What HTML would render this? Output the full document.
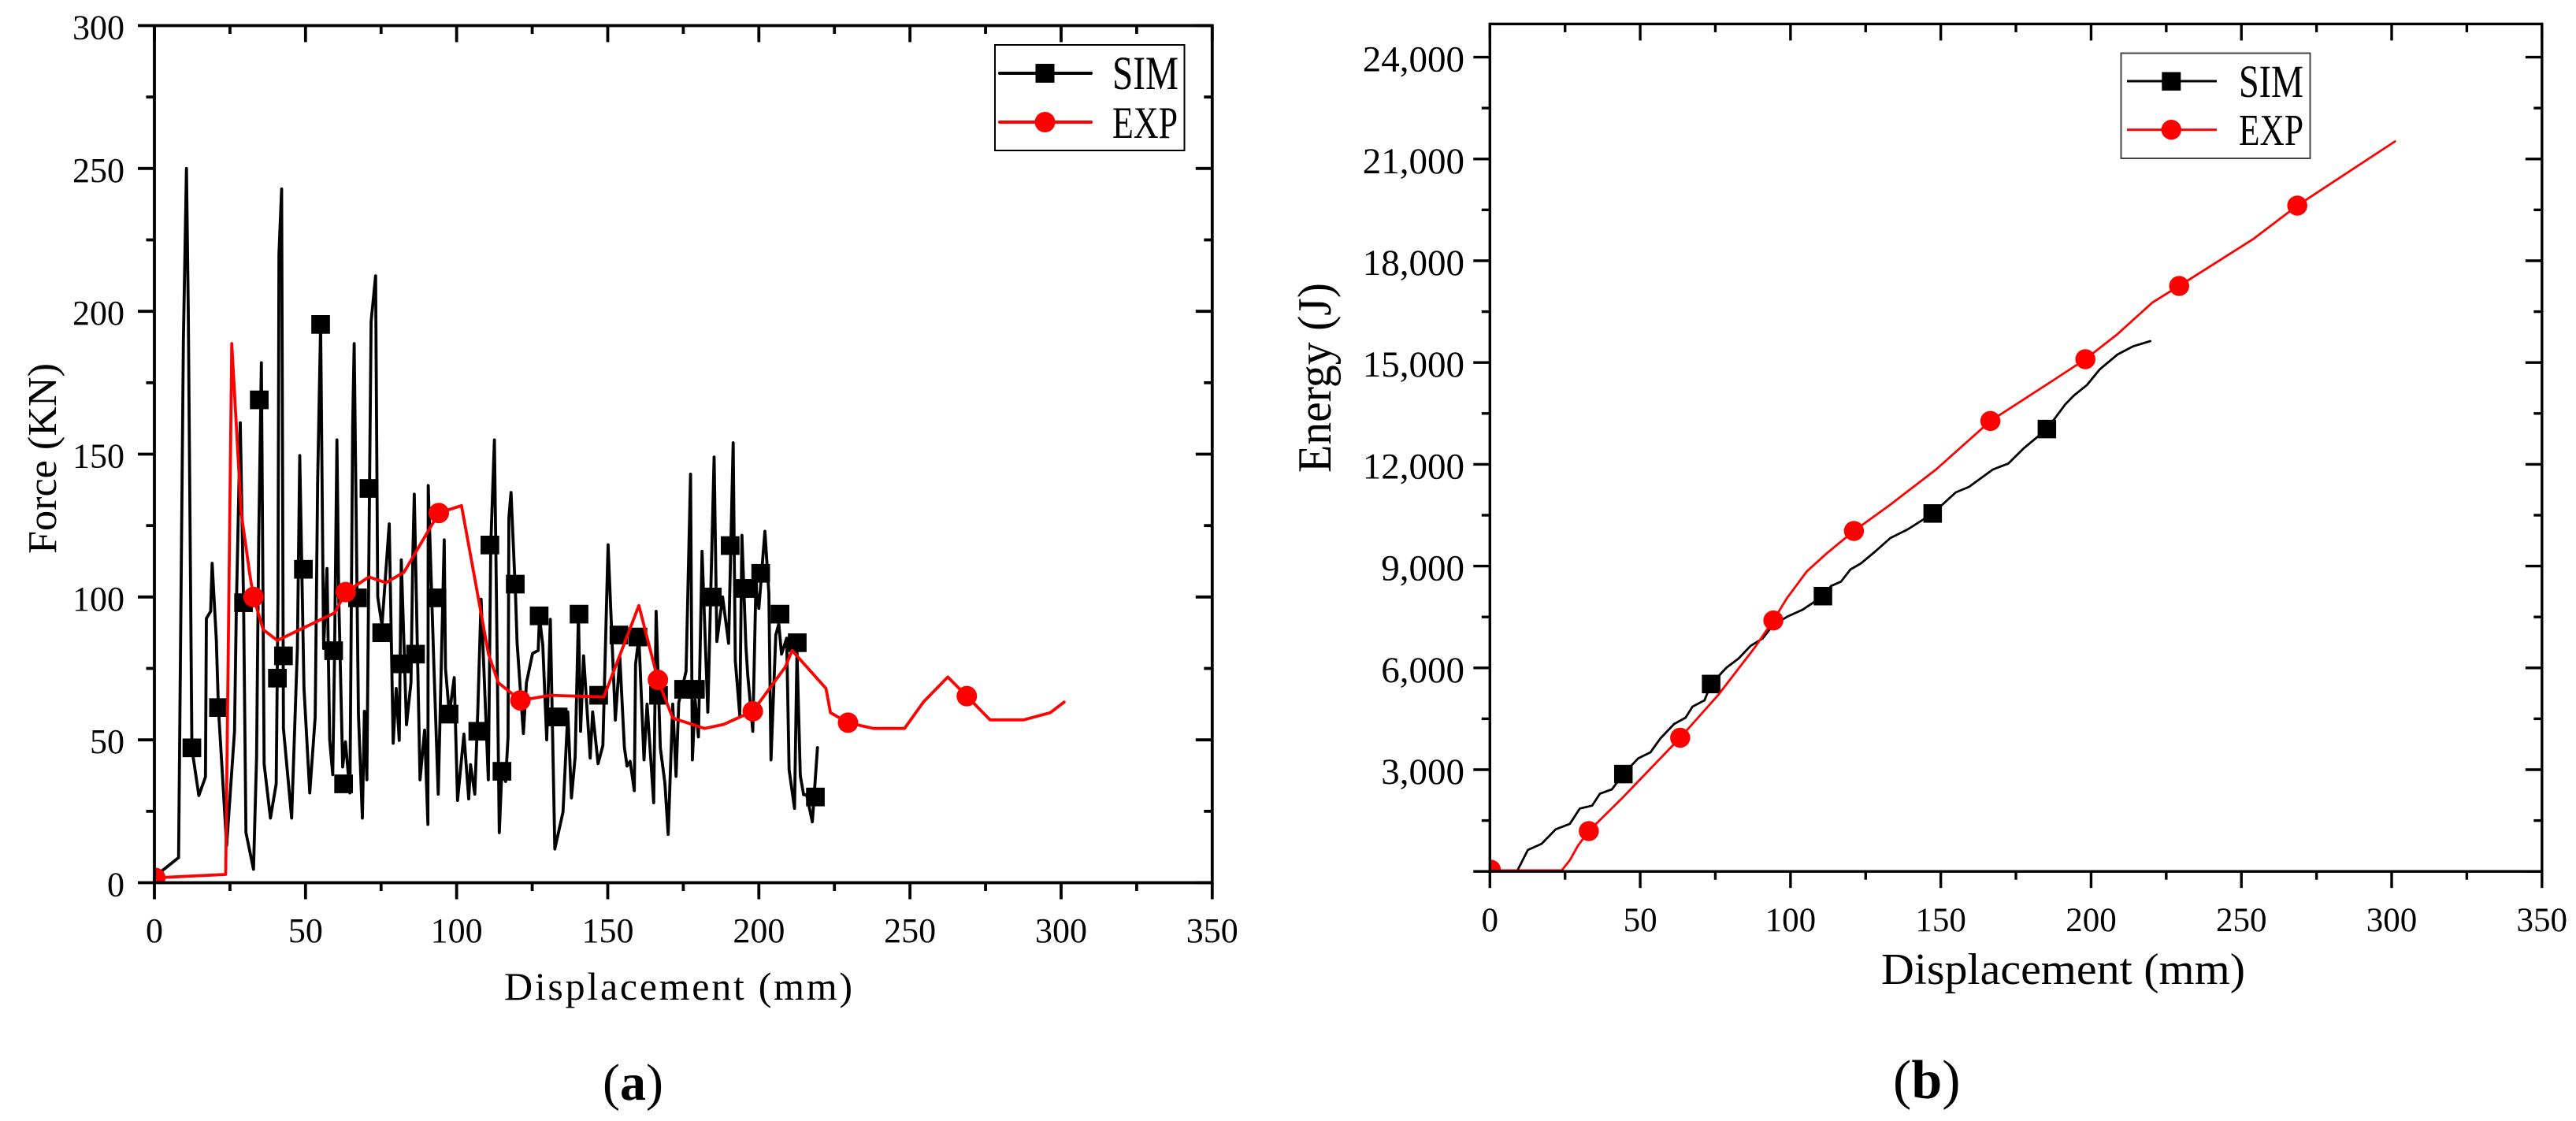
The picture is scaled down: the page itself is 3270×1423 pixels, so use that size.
<!DOCTYPE html>
<html lang="en">
<head>
<meta charset="utf-8">
<title>Force and energy versus displacement</title>
<style>
html,body{margin:0;padding:0;background:#fff;}
svg{display:block;}
text{font-family:"Liberation Serif","Noto Serif CJK SC",serif;fill:#000;}
</style>
</head>
<body>
<svg id="figure" xmlns="http://www.w3.org/2000/svg" width="3270" height="1423" viewBox="0 0 3270 1423">
<rect x="0" y="0" width="3270" height="1423" fill="#fff"/>
<defs>
<clipPath id="clip-a"><rect x="196" y="32.5" width="1342.8" height="1088"/></clipPath>
<clipPath id="clip-b"><rect x="1891.3" y="30.4" width="1335.5" height="1075.8"/></clipPath>
</defs>
<g id="panel-a"></g>
<g id="panel-b"></g>
<text transform="translate(71,703) rotate(-90)" font-size="52" textLength="242" lengthAdjust="spacingAndGlyphs">Force (KN)</text>
<text x="640" y="1269" font-size="50" textLength="442" lengthAdjust="spacing">Displacement (mm)</text>
<text transform="translate(1689,600) rotate(-90)" font-size="60" textLength="241" lengthAdjust="spacingAndGlyphs">Energy (J)</text>
<text x="2388" y="1249" font-size="56" textLength="462" lengthAdjust="spacingAndGlyphs">Displacement (mm)</text>
<text x="765" y="1396" font-size="66">(<tspan font-weight="bold">a</tspan>)</text>
<text x="2403" y="1394" font-size="70">(<tspan font-weight="bold">b</tspan>)</text>

<g>
<rect x="1263" y="57" width="240.5" height="134" fill="#fff" stroke="#000" stroke-width="2"/>
<line x1="1269" y1="93" x2="1385" y2="93" stroke="#000" stroke-width="4" stroke-linecap="round"/>
<rect x="1314.5" y="81" width="24" height="24" fill="#000"/>
<text x="1412" y="113" font-size="60" textLength="84" lengthAdjust="spacingAndGlyphs">SIM</text>
<line x1="1269" y1="155" x2="1385" y2="155" stroke="#f00" stroke-width="4" stroke-linecap="round"/>
<circle cx="1326.5" cy="155" r="13" fill="#f00"/>
<text x="1412" y="175" font-size="57" textLength="83" lengthAdjust="spacingAndGlyphs">EXP</text>
</g>
<g>
<rect x="2692.5" y="67.5" width="240" height="133.5" fill="#fff" stroke="#444" stroke-width="2"/>
<line x1="2700" y1="103" x2="2814" y2="103" stroke="#000" stroke-width="3"/>
<rect x="2744.3" y="91.5" width="24" height="23.5" fill="#000"/>
<text x="2842" y="123" font-size="58" textLength="82" lengthAdjust="spacingAndGlyphs">SIM</text>
<line x1="2700" y1="164.7" x2="2814" y2="164.7" stroke="#f00" stroke-width="3"/>
<circle cx="2756.3" cy="164.7" r="12.7" fill="#f00"/>
<text x="2842" y="184" font-size="56" textLength="82" lengthAdjust="spacingAndGlyphs">EXP</text>
</g>
</svg>
<script>
const xTickLabels = ["0","50","100","150","200","250","300","350"];
const xTickValues = [0,50,100,150,200,250,300,350];
const forceTickValues = [0,50,100,150,200,250,300];
const forceTickLabels = ["0","50","100","150","200","250","300"];
const energyTickValues = [0,3000,6000,9000,12000,15000,18000,21000,24000];
const energyTickLabels = ["","3,000","6,000","9,000","12,000","15,000","18,000","21,000","24,000"];

const simForceX = [0,8,9.6,10.6,11.2,12.4,14.7,16.9,17.2,18.6,19.1,20.5,21.2,23.9,26.5,27.1,28.4,29.5,30.3,32.8,33.8,34.5,35.4,36.3,38.4,40.3,40.9,41.2,42.1,42.7,45.4,47.3,48.1,49.5,51.4,53.2,54,55,56,57.1,58,59,59.6,60.4,61,62.3,63.2,64.7,65.6,66.1,67.5,68.8,69.5,70.3,71.1,71.7,73.2,73.9,75.3,77.7,79,80,81,81.7,83.4,84.9,85.5,86,87.9,89.4,90.5,90.6,92.5,93.9,95.9,96.3,97.6,99.2,100.3,102.4,104,104.6,106,107,108.1,110.5,111.3,112.5,113,114.1,115,116.2,117,117.3,118,119.5,120,122.1,123.1,125.1,127,127.4,128.5,129.8,131,132.5,135.2,136.8,138,139.2,140.3,141,142,144.2,145,146.8,148.4,150.1,152.5,154,155.5,156.4,157.4,158.8,159.2,160.3,162,163,165.2,166,167.4,168.9,170,171.5,172.6,173.5,175.9,177.4,178,178.9,180,181.2,183.1,185.2,186.1,188,190,191.5,192.2,193.7,194.4,195.7,196.3,198,199,200,202,203.3,204,205.6,206.6,207.5,209.2,210,211.8,212.6,213.7,214.8,215.8,217.7,219.4];
const simForceY = [2,8.8,190,250,200,47,30.5,37,92.5,95,111.8,85,61,13,53,96,161,98,17.6,4.7,44,120,182,41.5,22.6,34.6,100,220,242.8,54,22.6,82,149.5,68,31.4,58,140,195.4,82,110,50,37.8,80,155,100,40.5,49.3,31.4,160,188.7,59,22.6,60,36,130,196.4,212.4,100,90,125.6,48.8,68,49.8,113,55.3,70,114,136,36,53.4,20.4,139,75,31,120,75,59,71.8,28.8,52,29.3,41.3,31,60,99.2,36,118,155,115,17.5,40,35.4,51,127.8,136.6,100,84,52.2,70,80.2,81.3,93,83.3,50,92.2,11.8,24.8,59.8,29.7,44,94,53,79.4,43.6,59.8,41.7,48,118.3,56.9,79,47.4,40.8,42.5,32.2,76.5,86,43,62.5,28,95,47.3,34.9,16.9,62.5,37.2,63,74,143,43,64,51,116,59.7,149,84.4,100,83.8,154,77.7,58.5,121.6,83.2,73,53,103.5,96,123,101.3,43,86.7,90.6,80,85.6,39.5,26,81,37.5,30.8,30.8,21.3,47.3];
const simForceMarkerX = [12.4,21.2,29.5,34.7,40.7,42.7,49.3,55,59.3,62.6,67.2,71,75.2,81.4,86.4,93.5,97.5,107,111,115,119.4,127.3,132.3,133.6,140.5,147,153.7,160,166.8,175.1,179,184.6,190.5,195.3,196.6,200.6,207,212.7,218.7];
const simForceMarkerY = [47.2,61.3,98,169,71.6,79.4,109.7,195.4,81.2,34.6,99.7,138,87.5,76.6,80,99.7,59,53,118.2,39,104.5,93.4,58,58,94,65.6,86.7,86,65.6,67.7,67.7,100,118,103,103,108.3,94,84,30];
const expForceX = [0.3,23.6,25.6,28.7,31.6,32.8,36,40.7,59.6,63.3,71,76.6,82.6,94.1,101.6,107.8,110.5,113.8,121.1,131,148.7,160.3,166.6,171.5,182,188.3,198,208.7,211,222.2,223.7,229.5,237.9,248.2,254.5,262.5,268.8,276.5,287.6,296.4,301];
const expForceY = [1.7,2.9,188.7,129.7,107.7,100,88.6,84.8,94.4,101.7,107,105,108.7,129.4,132,96,80.2,70,63.8,65.6,65,97,71,57.6,54,55.4,60,75.4,81.3,68,59.5,56,54,54,63.3,72,65.3,57,57,59.5,63.2];
const expForceMarkerX = [0.3,32.8,63.3,94.1,121.1,166.6,198,229.5,268.8];
const expForceMarkerY = [1.7,100,101.7,129.4,63.8,71,60,56,65.3];

const simEnergyX = [0,9.2,12.6,17.2,21.9,26.6,29.9,34,36.6,40.6,44.4,49.3,53.4,56.7,61.3,65.1,67.4,71.4,73.6,78.7,82.7,86.7,90.7,94,98.8,104.1,110.8,113.5,116.8,119.9,123.5,128.2,133.2,139,147.3,155,159.4,167.3,172.5,177.6,185.3,191.4,194.3,198.6,202.9,208.8,213.9,219.7];
const simEnergyY = [20,32,632,816,1242,1403,1853,1939,2292,2420,2870,3330,3511,3920,4347,4532,4857,5043,5524,6007,6274,6648,6864,7238,7505,7718,8115,8415,8543,8898,9083,9432,9827,10082,10551,11173,11335,11846,12023,12474,13040,13765,14030,14336,14800,15237,15476,15631];
const simEnergyMarkerX = [44.4,73.6,110.8,147.3,185.3];
const simEnergyMarkerY = [2870,5524,8115,10551,13040];
const expEnergyX = [0.3,23.9,26.6,29.3,32.9,43.9,63.3,76,88.1,94.3,98.7,105.4,112.1,121.1,133.2,148.4,166.5,186.9,198.1,208.8,220.4,229.3,253.9,268.6,301.1];
const expEnergyY = [30,30,332,762,1189,2153,3940,5206,6599,7398,8039,8842,9378,10035,10810,11846,13277,14448,15097,15838,16770,17257,18637,19625,21518];
const expEnergyMarkerX = [0.3,32.9,63.3,94.3,121.1,166.5,198.1,229.3,268.6];
const expEnergyMarkerY = [50,1189,3940,7398,10035,13277,15097,17257,19625];

const SVGNS = "http://www.w3.org/2000/svg";
function mk(parent, tag, attrs, txt){
  const el = document.createElementNS(SVGNS, tag);
  for (const k in attrs) el.setAttribute(k, attrs[k]);
  if (txt !== undefined) el.textContent = txt;
  parent.appendChild(el);
  return el;
}
const pathOf = (xs, ys, sx, sy) => xs.map((x, i) => (i ? "L" : "M") + sx(x).toFixed(1) + " " + sy(ys[i]).toFixed(1)).join("");

function drawAxes(g, o){
  const {sx, sy, left, right, top, bottom, sw} = o;
  const major = 21, minor = 10.5;
  const frame = mk(g, "rect", {x:left, y:top, width:right-left, height:bottom-top, fill:"none", stroke:"#000", "stroke-width":sw});
  
  
  for (let v = 0; v <= 350; v += 25){
    const isMajor = v % 50 === 0, len = isMajor ? major : minor, x = sx(v);
    const b = mk(g, "line", {x1:x, x2:x, y1:bottom, y2:bottom+len, stroke:"#000", "stroke-width":sw});
    
    
    const t = mk(g, "line", {x1:x, x2:x, y1:top, y2:top+len, stroke:"#000", "stroke-width":sw});
    
    
  }
  xTickValues.forEach((v, i) => {
    const lab = mk(g, "text", {x:sx(v), y:o.xLabelY, "font-size":o.fs, "text-anchor":"middle"}, xTickLabels[i]);
    
    
  });
  const step = o.yVals[1] - o.yVals[0];
  o.yVals.forEach((v, i) => {
    const y = sy(v);
    const l = mk(g, "line", {x1:left-major, x2:left, y1:y, y2:y, stroke:"#000", "stroke-width":sw});
    
    
    const r = mk(g, "line", {x1:right-major, x2:right, y1:y, y2:y, stroke:"#000", "stroke-width":sw});
    
    
    if (o.yLabels[i]) {
      const lab = mk(g, "text", {x:o.yLabelX, y:y+o.yLabelDy, "font-size":o.yFs, "text-anchor":"end"}, o.yLabels[i]);
      
      
    }
    if (i < o.yVals.length - 1 || o.minorAfterLast){
      const ym = sy(v + step/2);
      if (ym > top){
        const ml = mk(g, "line", {x1:left-minor, x2:left, y1:ym, y2:ym, stroke:"#000", "stroke-width":sw});
        
        
        const mr = mk(g, "line", {x1:right-minor, x2:right, y1:ym, y2:ym, stroke:"#000", "stroke-width":sw});
        
        
      }
    }
  });
}

function drawSeries(g, xs, ys, mx, my, sx, sy, color, shape, sw, size, name){
  const line = mk(g, "path", {d:pathOf(xs, ys, sx, sy), fill:"none", stroke:color, "stroke-width":sw, "stroke-linejoin":"round", "stroke-linecap":"round"});
  
  
  mx.forEach((x, i) => {
    let m;
    if (shape === "square") {
      m = mk(g, "rect", {x:sx(x)-size/2, y:sy(my[i])-size/2, width:size, height:size, fill:color});
    } else {
      m = mk(g, "circle", {cx:sx(x), cy:sy(my[i]), r:size/2, fill:color});
    }
    
    
  });
}

/* Panel (a) */
const ax = v => 196 + v * (1538.8 - 196) / 350;
const ay = v => 1120.5 - v * (1120.5 - 32.5) / 300;
const gA = document.getElementById("panel-a");
const seriesA = mk(gA, "g", {"clip-path":"url(#clip-a)"});


drawSeries(seriesA, simForceX, simForceY, simForceMarkerX, simForceMarkerY, ax, ay, "#000", "square", 3.8, 23.7, "sim-force");
drawSeries(seriesA, expForceX, expForceY, expForceMarkerX, expForceMarkerY, ax, ay, "#f00", "circle", 3.8, 26, "exp-force");
drawAxes(gA, {sx:ax, sy:ay, left:196, right:1538.8, top:32.5, bottom:1120.5, sw:3.8, xLabelY:1196, fs:44, yVals:forceTickValues, yLabels:forceTickLabels, yLabelX:158, yLabelDy:17, yFs:44});

/* Panel (b) */
const bx = v => 1891.3 + v * (3226.8 - 1891.3) / 350;
const by = v => 1106.2 - v * 129.2 / 3000;
const gB = document.getElementById("panel-b");
const seriesB = mk(gB, "g", {"clip-path":"url(#clip-b)"});


drawSeries(seriesB, simEnergyX, simEnergyY, simEnergyMarkerX, simEnergyMarkerY, bx, by, "#000", "square", 2.8, 23.5, "sim-energy");
drawSeries(seriesB, expEnergyX, expEnergyY, expEnergyMarkerX, expEnergyMarkerY, bx, by, "#f00", "circle", 2.8, 25.5, "exp-energy");
drawAxes(gB, {sx:bx, sy:by, left:1891.3, right:3226.8, top:30.4, bottom:1106.2, sw:3.4, xLabelY:1182, fs:43, yVals:energyTickValues, yLabels:energyTickLabels, yLabelX:1859, yLabelDy:18, yFs:47});
</script>
</body>
</html>
